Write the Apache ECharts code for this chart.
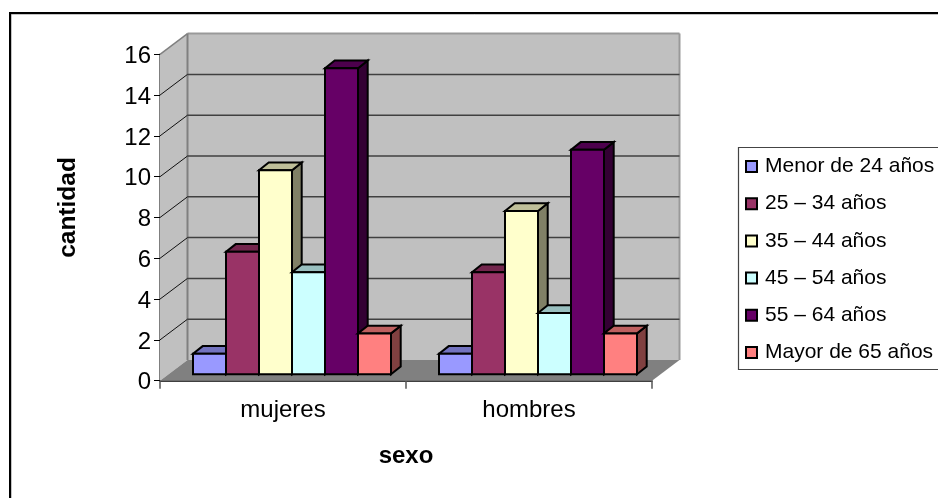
<!DOCTYPE html>
<html><head><meta charset="utf-8">
<style>html,body{margin:0;padding:0;background:#fff}#c{width:938px;height:498px}</style>
<script src="https://cdn.jsdelivr.net/npm/echarts@6/dist/echarts.min.js"></script>
</head><body><div id="c"></div>
<script>
var categories = ['mujeres', 'hombres'];
var seriesNames = ['Menor de 24 años', '25 – 34 años', '35 – 44 años', '45 – 54 años', '55 – 64 años', 'Mayor de 65 años'];
var menor24 = [1, 1];
var de25a34 = [6, 5];
var de35a44 = [10, 8];
var de45a54 = [5, 3];
var de55a64 = [15, 11];
var mayor65 = [2, 2];
var seriesValues = [menor24, de25a34, de35a44, de45a54, de55a64, mayor65];
var colors = ['#9999FF', '#993366', '#FFFFCC', '#CCFFFF', '#660066', '#FF8080'];
var yTicks = [2, 4, 6, 8, 10, 12, 14, 16];

var WALL_DX = 27.5, WALL_DY = 20.7;
var BAR_FX = 9, BAR_FY = 6.5, BAR_DX = 9.7, BAR_DY = 7.7;
var FONT = '"Liberation Sans", Arial, sans-serif';

function shade(hex, f) {
  var n = parseInt(hex.slice(1), 16);
  return 'rgb(' + Math.round((n >> 16 & 255) * f) + ',' + Math.round((n >> 8 & 255) * f) + ',' + Math.round((n & 255) * f) + ')';
}
function poly(points, fill, stroke, w) {
  return { type: 'polygon', shape: { points: points }, style: { fill: fill, stroke: stroke || null, lineWidth: w || 0, lineJoin: 'miter' } };
}
function line(a, b, stroke, w) {
  return { type: 'line', shape: { x1: a[0], y1: a[1], x2: b[0], y2: b[1] }, style: { stroke: stroke, lineWidth: w } };
}
function wallsItem(params, api) {
  var cs = params.coordSys, x0 = cs.x, x1 = cs.x + cs.width, y0 = api.coord([0, 0])[1], y1 = api.coord([0, 16])[1];
  var d = function (x, y) { return [x + WALL_DX, y - WALL_DY]; };
  return { type: 'group', children: [
    poly([d(x0, y1), d(x1, y1), d(x1, y0), d(x0, y0)], '#C0C0C0'),
    poly([[x0, y1], d(x0, y1), d(x0, y0), [x0, y0]], '#C0C0C0'),
    poly([[x0, y0], d(x0, y0), d(x1, y0), [x1, y0]], '#808080'),
    line(d(x0, y1), d(x1, y1), '#999999', 2),
    line(d(x1, y1), d(x1, y0), '#999999', 2),
    line(d(x0, y1), d(x0, y0), '#808080', 2),
    line([x0, y1], d(x0, y1), '#808080', 1.5)
  ] };
}
function gridItem(params, api) {
  var cs = params.coordSys, x0 = cs.x, x1 = cs.x + cs.width, p = api.coord([0, api.value(0)]);
  var y = p[1], kids = [];
  if (api.value(0) < 16) {
    kids.push(line([x0 + WALL_DX, y - WALL_DY], [x1 + WALL_DX, y - WALL_DY], '#404040', 1.5));
    kids.push(line([x0, y], [x0 + WALL_DX, y - WALL_DY], '#111111', 1));
  }
  return { type: 'group', children: kids };
}
function barRenderer(idx) {
  return function (params, api) {
    var cat = api.value(0), v = api.value(1);
    var base = api.coord([cat, 0]), top = api.coord([cat, v]);
    var band = api.size([1, 0])[0];
    var bw = band * 33 / 246;
    var xl = base[0] - band / 2 + band * 24 / 246 + BAR_FX + idx * bw, xr = xl + bw;
    var yb = base[1] - BAR_FY, yt = top[1] - BAR_FY;
    var col = colors[idx];
    return { type: 'group', children: [
      poly([[xr, yt], [xr + BAR_DX, yt - BAR_DY], [xr + BAR_DX, yb - BAR_DY], [xr, yb]], shade(col, 0.5), '#000', 2),
      poly([[xl, yt], [xl + BAR_DX, yt - BAR_DY], [xr + BAR_DX, yt - BAR_DY], [xr, yt]], shade(col, 0.75), '#000', 2),
      poly([[xl, yt], [xr, yt], [xr, yb], [xl, yb]], col, '#000', 2)
    ] };
  };
}
var series = [
  { type: 'custom', name: 'walls', silent: true, data: [[0]], encode: { x: -1, y: -1 }, renderItem: wallsItem, z: 1 },
  { type: 'custom', name: 'lines', silent: true, data: yTicks.map(function (t) { return [t]; }), encode: { x: -1, y: -1 }, renderItem: gridItem, z: 1 }
];
seriesNames.forEach(function (name, i) {
  series.push({
    type: 'custom', name: name, z: 2,
    itemStyle: { color: colors[i], borderColor: '#000', borderWidth: 2 },
    encode: { x: 0, y: 1 },
    data: seriesValues[i].map(function (v, c) { return [c, v]; }),
    renderItem: barRenderer(i)
  });
});
var chart = echarts.init(document.getElementById('c'), null, { renderer: 'canvas' });
chart.setOption({
  animation: false,
  backgroundColor: '#fff',
  grid: { left: 160, right: 286, top: 54.3, bottom: 117.3 },
  xAxis: {
    type: 'category', data: categories, boundaryGap: true,
    name: 'sexo', nameLocation: 'middle', nameGap: 64,
    nameTextStyle: { fontFamily: FONT, fontWeight: 'bold', fontSize: 24, color: '#000' },
    axisLine: { lineStyle: { color: '#000', width: 1.5 } },
    axisTick: { show: true, length: 8, lineStyle: { color: '#555', width: 1.5 } },
    axisLabel: { fontFamily: FONT, fontSize: 24, color: '#000', margin: 18 },
    splitLine: { show: false }
  },
  yAxis: {
    type: 'value', min: 0, max: 16, interval: 2,
    name: 'cantidad', nameLocation: 'middle', nameGap: 79, nameRotate: 90,
    nameTextStyle: { fontFamily: FONT, fontWeight: 'bold', fontSize: 24.5, color: '#000', padding: [0, 0, 0, 20] },
    axisLine: { show: true, lineStyle: { color: '#555', width: 1.5 } },
    axisTick: { show: true, length: 6, lineStyle: { color: '#000', width: 1 } },
    axisLabel: {
      fontFamily: FONT, fontSize: 24, color: '#000', margin: 9,
      formatter: '{v|{value}}',
      rich: { v: { fontFamily: FONT, fontSize: 24, color: '#000', padding: [4, 0, 0, 0] } }
    },
    splitLine: { show: false }
  },
  legend: {
    orient: 'vertical', left: 740, top: 151, icon: 'rect', itemWidth: 11, itemHeight: 11, itemGap: 16.2,
    data: seriesNames, selectedMode: false,
    textStyle: { fontFamily: FONT, fontSize: 21, color: '#000', padding: [0, 0, 0, 3] }
  },
  graphic: [
    { type: 'polyline', silent: true, z: 0, shape: { points: [[11, 498], [11, 14], [938, 14]] }, style: { fill: null, stroke: '#888', lineWidth: 1 } },
    { type: 'polyline', silent: true, z: 0, shape: { points: [[10, 498], [10, 13], [938, 13]] }, style: { fill: null, stroke: '#000', lineWidth: 2 } },
    { type: 'polyline', silent: true, z: 0, shape: { points: [[945, 147.5], [738.5, 147.5], [738.5, 369.5], [945, 369.5]] }, style: { fill: '#fff', stroke: '#444', lineWidth: 1.2 } }
  ],
  series: series
});
</script></body></html>
